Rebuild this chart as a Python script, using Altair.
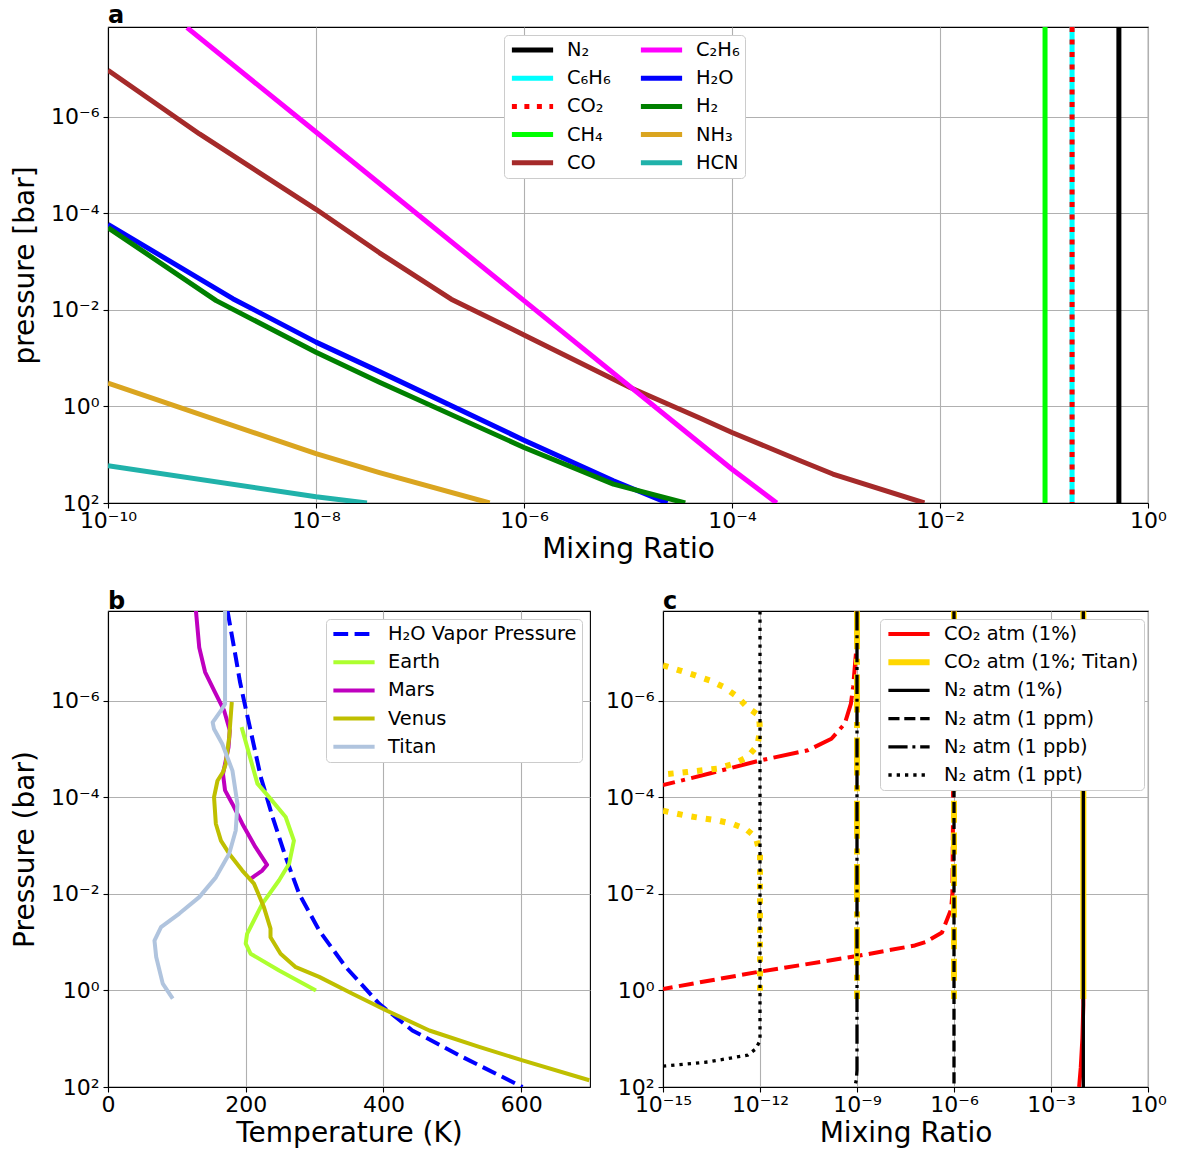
import altair as alt
import pandas as pd

FONT = "DejaVu Sans"
P_DOMAIN = [1.4e-8, 100.0]          # pressure axis (bar), top -> bottom

# ---------------- panel a : log10(mixing ratio) vs log10(pressure) ----------------
A_LEGEND = ["N₂", "C₆H₆", "CO₂", "CH₄", "CO", "C₂H₆", "H₂O", "H₂", "NH₃", "HCN"]
A_COLOR = {"N₂": "#000000", "C₆H₆": "#00ffff", "CO₂": "#ff0000", "CH₄": "#00ff00", "CO": "#a52a2a",
           "C₂H₆": "#ff00ff", "H₂O": "#0000ff", "H₂": "#008000", "NH₃": "#daa520", "HCN": "#20b2aa"}

A_VERT_NAMES = ["N₂", "C₆H₆", "CO₂", "CH₄"]
A_VERT_LOGX = [-0.28, -0.73, -0.73, -0.99]

CO_LX = [-10.0, -9.12, -8.0, -7.39, -6.70, -6.0, -4.98, -4.31, -4.0, -3.35, -3.03, -2.15]
CO_LP = [-6.96, -5.64, -4.08, -3.18, -2.22, -1.48, -0.39, 0.24, 0.54, 1.12, 1.40, 2.0]
C2H6_LX = [-9.24, -8.0, -6.0, -4.0, -3.57]
C2H6_LP = [-7.84, -5.68, -2.19, 1.30, 2.0]
H2O_LX = [-10.0, -8.80, -8.0, -7.39, -6.0, -5.14, -4.62]
H2O_LP = [-3.77, -2.23, -1.33, -0.72, 0.70, 1.54, 2.0]
H2_LX = [-10.0, -8.96, -8.0, -7.39, -6.0, -5.14, -4.45]
H2_LP = [-3.70, -2.19, -1.12, -0.50, 0.85, 1.61, 2.0]
NH3_LX = [-10.0, -8.0, -7.39, -6.33]
NH3_LP = [-0.48, 0.98, 1.37, 2.0]
HCN_LX = [-10.0, -8.0, -7.51]
HCN_LP = [1.23, 1.87, 2.0]

# ---------------- panel b : temperature (K) vs log10(pressure) ----------------
B_LEGEND = ["H₂O Vapor Pressure", "Earth", "Mars", "Venus", "Titan"]
B_COLOR = ["#0000ff", "#adff2f", "#bf00bf", "#bfbf00", "#b0c4de"]

VAP_T = [173.5, 185.5, 191.5, 197.5, 206.0, 222.0, 239.0, 258.0, 277.6, 306.7, 345.5, 394.0, 442.0, 515.0, 602.0]
VAP_LP = [-7.86, -6.9, -6.4, -6.0, -5.45, -4.41, -3.59, -2.76, -2.0, -1.24, -0.48, 0.28, 0.83, 1.38, 2.0]
EARTH_T = [194.0, 217.0, 234.0, 258.0, 270.0, 263.0, 248.5, 224.0, 202.0, 200.0, 207.0, 248.5, 302.0]
EARTH_LP = [-5.45, -4.28, -4.0, -3.59, -3.10, -2.62, -2.28, -1.79, -1.17, -0.97, -0.76, -0.41, 0.0]
MARS_T = [127.7, 132.5, 141.0, 154.0, 168.7, 176.9, 175.0, 167.0, 170.0, 180.7, 195.0, 214.0, 231.0, 224.0, 207.0]
MARS_LP = [-7.86, -7.10, -6.59, -6.21, -5.79, -5.38, -5.03, -4.48, -4.14, -3.86, -3.45, -2.97, -2.60, -2.48, -2.31]
VENUS_T = [179.8, 176.0, 171.0, 167.0, 159.0, 154.0, 156.6, 164.0, 176.0, 195.0, 212.0, 226.5, 236.0, 236.0,
           250.6, 272.7, 306.7, 355.0, 403.6, 466.7, 539.0, 602.0, 699.0]
VENUS_LP = [-5.97, -5.24, -4.69, -4.52, -4.34, -4.0, -3.45, -3.10, -2.83, -2.48, -2.21, -1.72, -1.28, -1.10,
            -0.76, -0.48, -0.28, 0.07, 0.41, 0.83, 1.17, 1.45, 1.86]
TITAN_T = [170.0, 170.0, 164.0, 152.0, 154.0, 166.0, 180.7, 188.0, 185.5, 176.0, 156.6, 132.5, 103.6, 77.0,
           67.5, 70.0, 79.5, 94.0]
TITAN_LP = [-7.86, -5.93, -5.79, -5.55, -5.41, -5.10, -4.55, -3.86, -3.31, -2.83, -2.34, -1.93, -1.59, -1.31,
            -1.03, -0.69, -0.14, 0.17]

# ---------------- panel c : log10(mixing ratio) vs log10(pressure) ----------------
C_LEGEND = ["CO₂ atm (1%)", "CO₂ atm (1%; Titan)", "N₂ atm (1%)", "N₂ atm (1 ppm)", "N₂ atm (1 ppb)", "N₂ atm (1 ppt)"]
C_TOP = -7.85
N2_PCT_LX = [-2.0, -2.0]
N2_PCT_LP = [C_TOP, 2.0]
N2_PPM_LX = [-6.0, -6.0]
N2_PPM_LP = [C_TOP, 2.0]
N2_PPB_LX = [-9.0, -9.0, -9.02, -9.07]
N2_PPB_LP = [C_TOP, 1.65, 1.85, 2.0]
N2_PPT_LX = [-12.0, -12.0, -12.13, -12.38, -13.59, -15.0]
N2_PPT_LP = [C_TOP, 1.04, 1.21, 1.34, 1.48, 1.57]
CO2_PCT_LX = [-2.0, -2.0, -2.03, -2.08, -2.13]
CO2_PCT_LP = [C_TOP, 0.3, 1.0, 1.6, 2.0]
CO2_PPM_LX = [-6.02, -6.03, -6.05, -6.09, -6.37, -6.88, -7.21, -9.0, -12.08, -15.0]
CO2_PPM_LP = [C_TOP, -3.7, -2.0, -1.68, -1.2, -1.0, -0.93, -0.71, -0.38, -0.03]
CO2_PPB_LX = [-9.02, -9.03, -9.06, -9.12, -9.19, -9.38, -9.79, -10.52, -12.0, -13.5, -15.0]
CO2_PPB_LP = [C_TOP, -7.0, -6.76, -6.28, -5.93, -5.52, -5.21, -4.97, -4.76, -4.5, -4.25]
TITAN_SURF = 0.176
TI_PCT_LX = [-2.0, -2.0]
TI_PPM_LX = [-6.0, -6.0]
TI_PPB_LX = [-9.0, -9.0]
TI_VERT_LP = [C_TOP, TITAN_SURF]
TI_PPT1_LX = [-15.0, -14.47, -14.0, -13.53, -13.12, -12.7, -12.39, -12.03, -12.0, -12.08, -12.39, -12.81,
              -13.33, -14.26, -15.0]
TI_PPT1_LP = [-6.73, -6.62, -6.52, -6.41, -6.28, -6.08, -5.86, -5.69, -5.38, -5.07, -4.83, -4.69, -4.59,
              -4.52, -4.47]
TI_PPT2_LX = [-15.0, -14.31, -13.85, -13.33, -12.86, -12.44, -12.13, -12.0, -12.0]
TI_PPT2_LP = [-3.72, -3.62, -3.57, -3.52, -3.45, -3.34, -3.17, -2.83, TITAN_SURF]

# ---------------------------------------------------------------------------
SUP = "toString(round(log(datum.value)/LN10))"
for a, b in [("-", "⁻"), ("0", "⁰"), ("1", "¹"), ("2", "²"), ("3", "³"), ("4", "⁴"),
             ("5", "⁵"), ("6", "⁶"), ("7", "⁷"), ("8", "⁸"), ("9", "⁹")]:
    SUP = f"replace({SUP}, '{a}', '{b}')"
LOG_LABEL = "'10' + " + SUP

SOLID = [1, 0]
DOT5 = [5, 7.5]


def df_log(lx, lp):
    return pd.DataFrame({"x": [10 ** v for v in lx], "p": [10 ** v for v in lp], "i": list(range(len(lx)))})


def df_lin(t, lp):
    return pd.DataFrame({"x": list(t), "p": [10 ** v for v in lp], "i": list(range(len(t)))})


def make_enc(xscale, xaxis, yaxis):
    ys = alt.Scale(type="log", domain=P_DOMAIN, reverse=True, nice=False)
    return dict(x=alt.X("x:Q", scale=xscale, axis=xaxis), y=alt.Y("p:Q", scale=ys, axis=yaxis))


def curve(df, enc, color, width, dash=None):
    kw = dict(color=color, strokeWidth=width, clip=True, strokeCap="butt", strokeJoin="round")
    if dash is not None:
        kw["strokeDash"] = dash
    return alt.Chart(df).mark_line(**kw).encode(order="i:Q", **enc)


def legend_layer(enc, labels, colors, dashes, widths, lx, ly, cols=1):
    n = len(labels)
    df = pd.DataFrame({"label": labels, "x": [None] * n, "p": [None] * n})
    leg = alt.Legend(title=None, orient="none", legendX=lx, legendY=ly, columns=cols, columnPadding=27,
                     symbolType="stroke", symbolSize=1700, labelFont=FONT, labelFontSize=19.4,
                     labelColor="black", labelOffset=11, fillColor="white", strokeColor="#cccccc",
                     cornerRadius=4, padding=5, clipHeight=20, rowPadding=8.2, labelLimit=400)
    return alt.Chart(df).mark_line(clip=True).encode(
        color=alt.Color("label:N", scale=alt.Scale(domain=labels, range=colors), legend=leg),
        strokeDash=alt.StrokeDash("label:N", scale=alt.Scale(domain=labels, range=dashes), legend=leg),
        strokeWidth=alt.StrokeWidth("label:N", scale=alt.Scale(type="ordinal", domain=labels, range=widths),
                                    legend=leg),
        **enc)


def title(t):
    return alt.Title(t, anchor="start", frame="group", fontSize=24, fontWeight="bold", font=FONT,
                     color="black", offset=-3)


# ---------------- panel a ----------------
enc_a = make_enc(alt.Scale(type="log", domain=[1e-10, 1.0], nice=False),
                 alt.Axis(title="Mixing Ratio", values=[1e-10, 1e-8, 1e-6, 1e-4, 1e-2, 1.0], labelExpr=LOG_LABEL),
                 alt.Axis(title="pressure [bar]", values=[1e-6, 1e-4, 1e-2, 1.0, 100.0], labelExpr=LOG_LABEL))

vert_df = pd.DataFrame({"name": A_VERT_NAMES, "x": [10 ** v for v in A_VERT_LOGX]})
layers_a = []
for name in A_VERT_NAMES:
    kw = dict(color=A_COLOR[name], strokeWidth=5)
    if name == "CO₂":
        kw["strokeDash"] = DOT5
    layers_a.append(alt.Chart(vert_df).transform_filter(alt.datum.name == name)
                    .mark_rule(**kw).encode(x=enc_a["x"]))
for name, lx, lp in [("CO", CO_LX, CO_LP), ("C₂H₆", C2H6_LX, C2H6_LP), ("H₂O", H2O_LX, H2O_LP),
                     ("H₂", H2_LX, H2_LP), ("NH₃", NH3_LX, NH3_LP), ("HCN", HCN_LX, HCN_LP)]:
    layers_a.append(curve(df_log(lx, lp), enc_a, A_COLOR[name], 5))
layers_a.append(legend_layer(enc_a, A_LEGEND, [A_COLOR[k] for k in A_LEGEND],
                             [DOT5 if k == "CO₂" else SOLID for k in A_LEGEND], [5] * 10, 396, 8, cols=2))
chart_a = alt.layer(*layers_a).properties(width=1040, height=476, title=title("a"))

# ---------------- panel b ----------------
enc_b = make_enc(alt.Scale(domain=[0, 700], nice=False),
                 alt.Axis(title="Temperature (K)", values=[0, 200, 400, 600]),
                 alt.Axis(title="Pressure (bar)", values=[1e-6, 1e-4, 1e-2, 1.0, 100.0], labelExpr=LOG_LABEL))
DASH_B = [14.8, 6.4]
layers_b = [curve(df_lin(VAP_T, VAP_LP), enc_b, B_COLOR[0], 4, DASH_B),
            curve(df_lin(EARTH_T, EARTH_LP), enc_b, B_COLOR[1], 4),
            curve(df_lin(MARS_T, MARS_LP), enc_b, B_COLOR[2], 4),
            curve(df_lin(VENUS_T, VENUS_LP), enc_b, B_COLOR[3], 4),
            curve(df_lin(TITAN_T, TITAN_LP), enc_b, B_COLOR[4], 4),
            legend_layer(enc_b, B_LEGEND, B_COLOR, [DASH_B] + [SOLID] * 4, [4] * 5, 218, 8)]
chart_b = alt.layer(*layers_b).properties(width=482, height=476, title=title("b"))

# ---------------- panel c ----------------
enc_c = make_enc(alt.Scale(type="log", domain=[1e-15, 1.0], nice=False),
                 alt.Axis(title="Mixing Ratio", values=[1e-15, 1e-12, 1e-9, 1e-6, 1e-3, 1.0], labelExpr=LOG_LABEL),
                 alt.Axis(title=None, values=[1e-6, 1e-4, 1e-2, 1.0, 100.0], labelExpr=LOG_LABEL))
RED, GOLD, BLK = "#ff0000", "#ffd700", "#000000"
R_DASH, R_DDOT = [15, 6.4], [25.6, 6.4, 4, 6.4]
Y_DASH, Y_DDOT, Y_DOT = [22, 9.6], [38, 9.6, 6, 9.6], [5.5, 9]
K_DASH, K_DDOT, K_DOT = [11.1, 4.8], [19.2, 4.8, 3, 4.8], [3.3, 5]
layers_c = [
    curve(df_log(CO2_PCT_LX, CO2_PCT_LP), enc_c, RED, 4),
    curve(df_log(CO2_PPM_LX, CO2_PPM_LP), enc_c, RED, 4, R_DASH),
    curve(df_log(CO2_PPB_LX, CO2_PPB_LP), enc_c, RED, 4, R_DDOT),
    curve(df_log(TI_PCT_LX, TI_VERT_LP), enc_c, GOLD, 6),
    curve(df_log(TI_PPM_LX, TI_VERT_LP), enc_c, GOLD, 6, Y_DASH),
    curve(df_log(TI_PPB_LX, TI_VERT_LP), enc_c, GOLD, 6, Y_DDOT),
    curve(df_log(TI_PPT1_LX, TI_PPT1_LP), enc_c, GOLD, 6, Y_DOT),
    curve(df_log(TI_PPT2_LX, TI_PPT2_LP), enc_c, GOLD, 6, Y_DOT),
    curve(df_log(N2_PCT_LX, N2_PCT_LP), enc_c, BLK, 3.3),
    curve(df_log(N2_PPM_LX, N2_PPM_LP), enc_c, BLK, 3.3, K_DASH),
    curve(df_log(N2_PPB_LX, N2_PPB_LP), enc_c, BLK, 3.3, K_DDOT),
    curve(df_log(N2_PPT_LX, N2_PPT_LP), enc_c, BLK, 3.3, K_DOT),
    legend_layer(enc_c, C_LEGEND, [RED, GOLD, BLK, BLK, BLK, BLK],
                 [SOLID, SOLID, SOLID, K_DASH, K_DDOT, K_DOT], [4, 6, 3.3, 3.3, 3.3, 3.3], 217, 8),
]
chart_c = alt.layer(*layers_c).properties(width=485, height=476, title=title("c"))

bottom = alt.hconcat(chart_b, chart_c, spacing=73, bounds="flush").resolve_scale(
    color="independent", strokeDash="independent", strokeWidth="independent").resolve_legend(
    color="independent", strokeDash="independent", strokeWidth="independent")

chart = alt.vconcat(chart_a, bottom, spacing=108, bounds="flush").resolve_scale(
    color="independent", strokeDash="independent", strokeWidth="independent").resolve_legend(
    color="independent", strokeDash="independent", strokeWidth="independent").configure_view(
    stroke="black", strokeWidth=1.1).configure_axis(
    grid=True, gridColor="#b0b0b0", gridWidth=1.1, domainColor="black", domainWidth=1.1,
    tickColor="black", tickSize=5, tickWidth=1.1, labelFont=FONT, labelFontSize=22, labelColor="black",
    labelPadding=4, labelFlush=False, labelOverlap=False, titleFont=FONT, titleFontSize=28,
    titleFontWeight="normal", titleColor="black").configure_axisX(titlePadding=4, labelPadding=2).configure_axisY(
    titlePadding=11).properties(background="white",
                                padding={"left": 3, "top": -6, "right": 0, "bottom": 0})

chart.save("out.html", embed_options={"renderer": "svg", "actions": False})
